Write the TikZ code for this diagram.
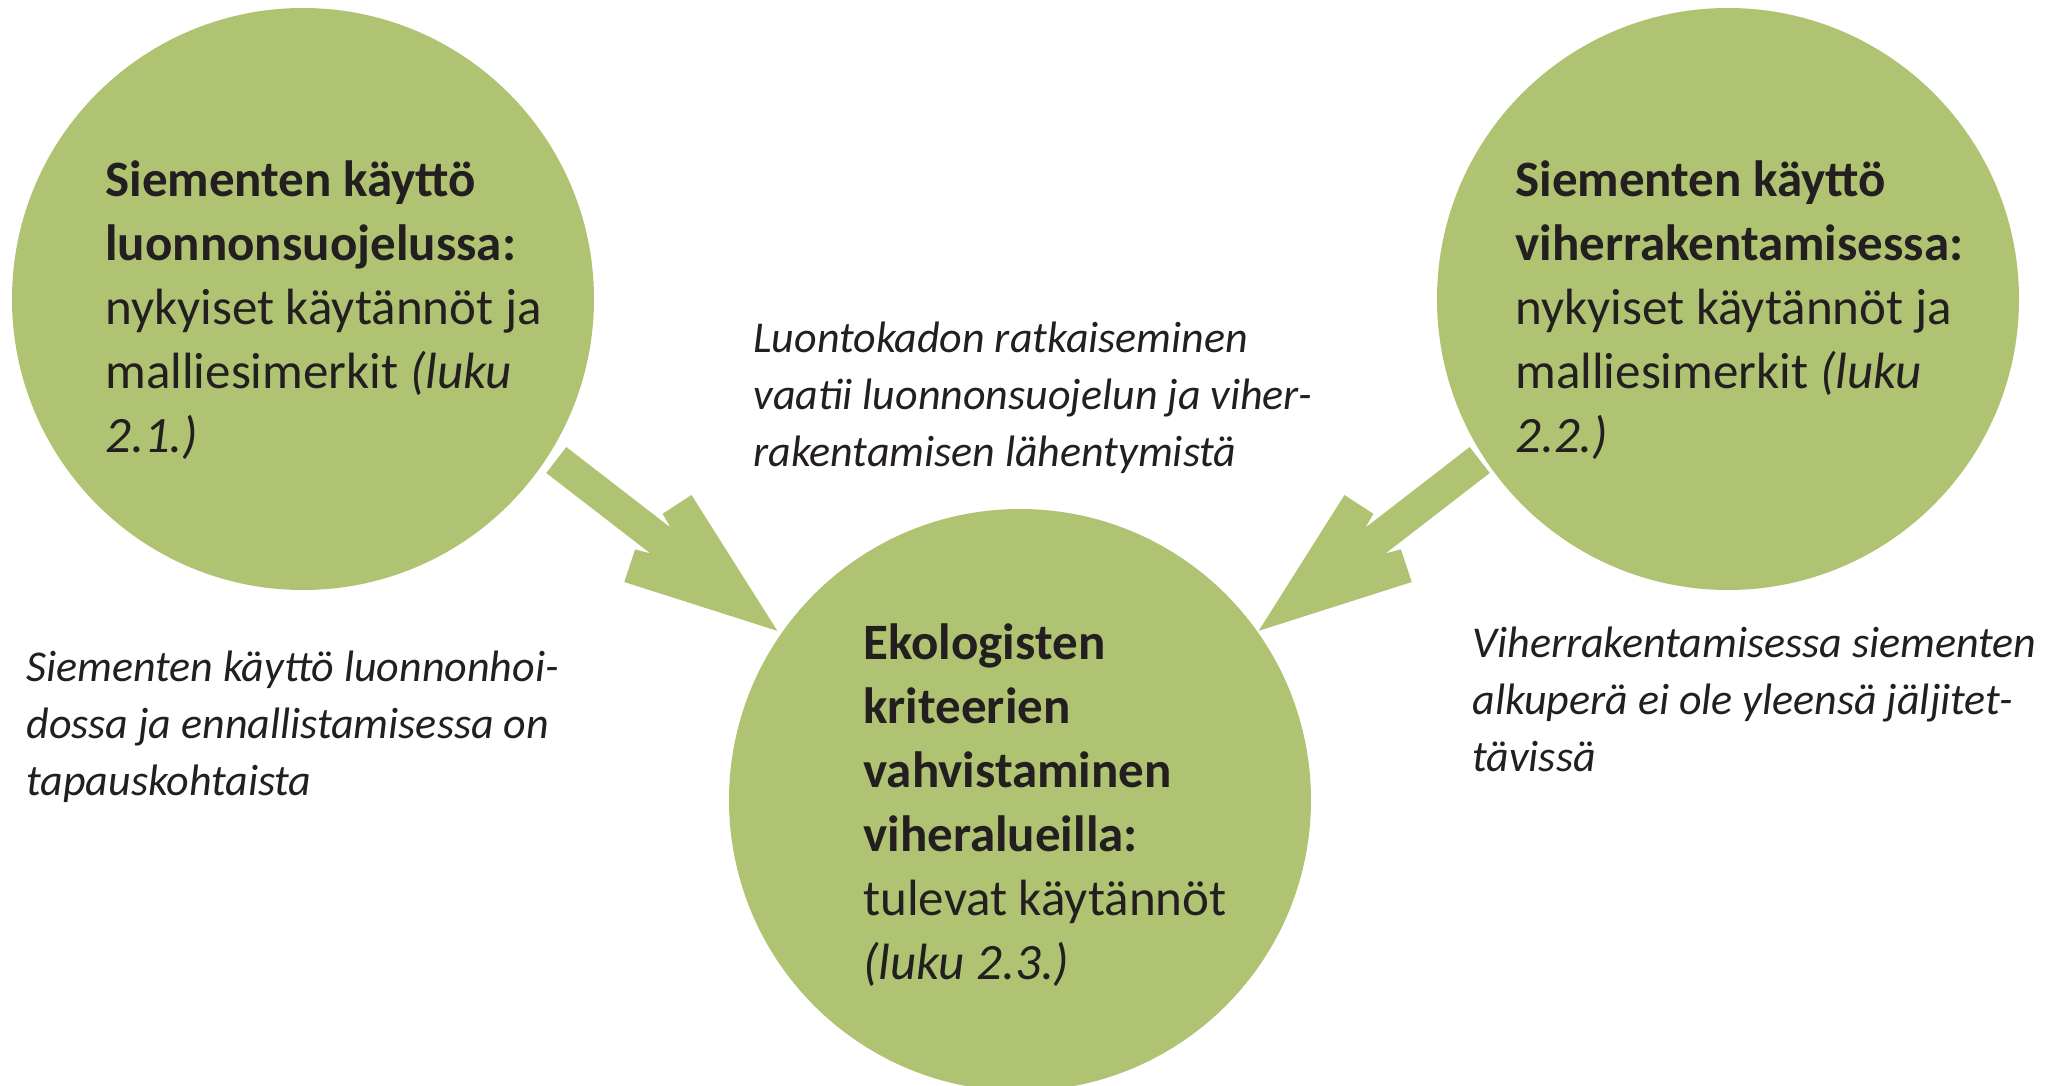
\documentclass[tikz,border=0pt]{standalone}
\usepackage{fontspec}
\setmainfont{Carlito}
\definecolor{leaf}{RGB}{176,195,114}
\definecolor{ink}{RGB}{35,31,32}
\begin{document}
\begin{tikzpicture}[x=0.5pt,y=-0.5pt,
  blob/.style={circle,fill=leaf,minimum size=291pt,inner sep=0pt},
  circtext/.style={anchor=base west,align=left,inner sep=0pt,text=ink,font=\fontsize{25.5pt}{32pt}\selectfont},
  note/.style={anchor=base west,align=left,inner sep=0pt,text=ink,font=\fontsize{22pt}{28.5pt}\selectfont\itshape},
  blockarrow/.pic={\fill[leaf] (0,-16.4) -- (131.5,-16.4) -- (117,-22.5) -- (128.4,-55) -- (279.4,0) -- (128.4,55) -- (117,22.5) -- (131.5,16.4) -- (0,16.4) -- cycle;}
]
\useasboundingbox (0,0) rectangle (2058,1086);
\clip (0,0) rectangle (2058,1086);
\node[blob] (c1) at (303,299) {};
\node[blob] (c2) at (1728,299) {};
\node[blob] (c3) at (1020,800) {};
\pic[rotate=-37.7] (a1) at (556.3,460) {blockarrow};
\pic[rotate=-142.3] (a2) at (1479.7,460) {blockarrow};
\node[circtext] (t1) at (105,452) {\textbf{Siementen käyttö}\\\textbf{luonnonsuojelussa:}\\nykyiset käytännöt ja\\malliesimerkit \textit{(luku}\\\textit{2.1.)}};
\node[circtext] (t2) at (1515,452) {\textbf{Siementen käyttö}\\\textbf{viherrakentamisessa:}\\nykyiset käytännöt ja\\malliesimerkit \textit{(luku}\\\textit{2.2.)}};
\node[circtext] (t3) at (863,979) {\textbf{Ekologisten}\\\textbf{kriteerien}\\\textbf{vahvistaminen}\\\textbf{viheralueilla:}\\tulevat käytännöt\\\textit{(luku 2.3.)}};
\node[note] (n1) at (753,466) {Luontokadon ratkaiseminen\\vaatii luonnonsuojelun ja viher-\\rakentamisen lähentymistä};
\node[note] (n2) at (26,795) {Siementen käyttö luonnonhoi-\\dossa ja ennallistamisessa on\\tapauskohtaista};
\node[note] (n3) at (1472,771.5) {Viherrakentamisessa siementen\\alkuperä ei ole yleensä jäljitet-\\tävissä};
\end{tikzpicture}
\end{document}
